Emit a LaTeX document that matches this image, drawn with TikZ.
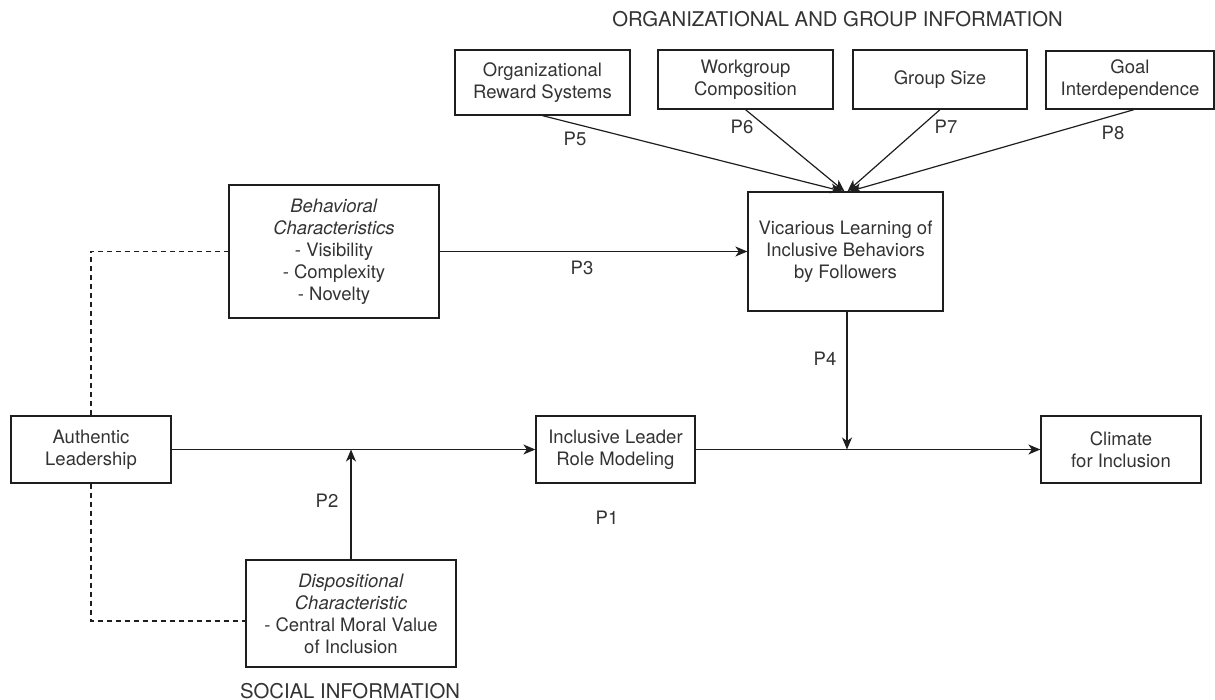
\documentclass[tikz,border=0pt]{standalone}
\usepackage{fontspec}
\setmainfont{TeX Gyre Heros}
\usetikzlibrary{arrows.meta,calc}
\definecolor{linec}{HTML}{1E1E1E}
\definecolor{txtc}{HTML}{333333}
\newcommand{\fsz}{\fontsize{18.5}{22}\selectfont}
\newcommand{\fhd}{\fontsize{20.3}{24}\selectfont}
\begin{document}
\begin{tikzpicture}[x=1pt,y=-1pt,
  box/.style={draw=linec,line width=1.3pt,align=center,inner sep=0pt,text=txtc,font=\fsz},
  lbl/.style={text=txtc,font=\fsz,inner sep=0pt},
  hd/.style={text=txtc,font=\fhd,inner sep=0pt},
  arr/.style={draw=linec,line width=1.2pt,-{Stealth[length=12pt,width=10pt,inset=3.5pt]}},
  dsh/.style={draw=linec,line width=1.2pt,dash pattern=on 5pt off 4pt}]
\useasboundingbox (0,0) rectangle (1215,700);

% top group
\node[box,minimum width=175pt,minimum height=65pt] (org) at (542.5,82.5) {Organizational\\Reward Systems};
\node[box,minimum width=175pt,minimum height=59pt] (work) at (745.5,79.5) {Workgroup\\Composition};
\node[box,minimum width=174pt,minimum height=59pt] (gsize) at (940,79.5) {Group Size};
\node[box,minimum width=168pt,minimum height=58pt] (goal) at (1130,80) {Goal\\Interdependence};

\node[box,minimum width=195pt,minimum height=119pt] (vic) at (845.5,251.5) {Vicarious Learning of\\Inclusive Behaviors\\by Followers};
\node[box,minimum width=210pt,minimum height=133pt] (beh) at (334,251.5) {\textit{Behavioral}\\\textit{Characteristics}\\- Visibility\\- Complexity\\- Novelty};
\node[box,minimum width=160pt,minimum height=67pt] (auth) at (91,449.5) {Authentic\\Leadership};
\node[box,minimum width=159pt,minimum height=67pt] (ilrm) at (615.5,449.5) {Inclusive Leader\\Role Modeling};
\node[box,minimum width=160pt,minimum height=67pt] (clim) at (1121,449.5) {Climate\\for Inclusion};
\node[box,minimum width=210pt,minimum height=107pt] (disp) at (351,613.5) {\textit{Dispositional}\\\textit{Characteristic}\\- Central Moral Value\\of Inclusion};

% headings
\node[hd,anchor=base] (hdorg) at (837.5,27) {ORGANIZATIONAL AND GROUP INFORMATION};
\node[hd,anchor=base] (hdsoc) at (350,698) {SOCIAL INFORMATION};

% top arrows
\draw[arr] (org.south) -- ($(vic.north)+(-3,0)$);
\draw[arr] (work.south) -- ($(vic.north)+(-1,0)$);
\draw[arr] (gsize.south) -- ($(vic.north)+(2,0)$);
\draw[arr] ($(goal.south)+(4,0)$) -- ($(vic.north)+(4,0)$);

% main arrows
\draw[arr] (beh.east) -- (vic.west);
\draw[arr] (auth.east) -- (ilrm.west);
\draw[arr] (ilrm.east) -- (clim.west);
\coordinate (p4end) at ($(vic.south)+(1.5,0)$);
\draw[arr] (p4end) -- (p4end |- clim.west);
\draw[arr] (disp.north) -- (disp.north |- auth.east);

% dashed connectors
\draw[dsh] (auth.north) |- (beh.west);
\coordinate (dispdash) at ($(disp.west)+(0,7.5)$);
\draw[dsh] (auth.south) |- (dispdash);

% proposition labels
\node[lbl] (p5) at (575,139) {P5};
\node[lbl] (p6) at (742,127) {P6};
\node[lbl] (p7) at (946,127) {P7};
\node[lbl] (p8) at (1113,133) {P8};
\node[lbl] (p3) at (582,268) {P3};
\node[lbl] (p4) at (825,359) {P4};
\node[lbl] (p1) at (607,518) {P1};
\node[lbl] (p2) at (327,501) {P2};
\end{tikzpicture}
\end{document}
